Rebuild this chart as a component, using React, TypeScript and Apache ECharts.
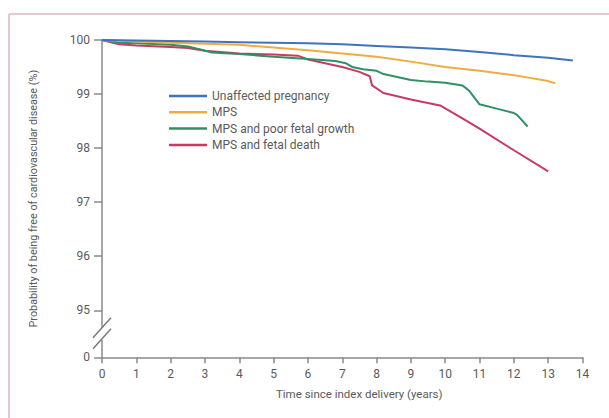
import React, { useEffect, useRef } from "react";
import * as echarts from "echarts";

const seriesNames = [
  "Unaffected pregnancy",
  "MPS",
  "MPS and poor fetal growth",
  "MPS and fetal death",
];

const unaffectedX = [0, 1, 2, 3, 4, 5, 6, 7, 8, 9, 10, 11, 12, 13, 13.72];
const unaffectedY = [100, 99.99, 99.98, 99.97, 99.96, 99.95, 99.94, 99.92, 99.89, 99.86, 99.83, 99.78, 99.72, 99.67, 99.62];

const mpsX = [0, 1, 2, 3, 4, 5, 6, 7, 8, 9, 10, 11, 12, 13, 13.2];
const mpsY = [100, 99.97, 99.95, 99.93, 99.91, 99.86, 99.81, 99.75, 99.69, 99.6, 99.5, 99.43, 99.35, 99.24, 99.2];

const growthX = [0, 0.5, 1, 2, 2.5, 2.9, 3.2, 4, 4.6, 5, 6, 6.8, 7.1, 7.3, 7.6, 8, 8.2, 8.5, 9, 9.5, 10, 10.5, 10.7, 11, 11.5, 12, 12.1, 12.4];
const growthY = [100, 99.95, 99.94, 99.91, 99.88, 99.82, 99.77, 99.74, 99.71, 99.69, 99.65, 99.61, 99.57, 99.5, 99.46, 99.43, 99.37, 99.33, 99.26, 99.23, 99.21, 99.16, 99.06, 98.81, 98.73, 98.65, 98.61, 98.4];

const deathX = [0, 0.5, 1, 2, 2.5, 3, 4, 5, 5.7, 6, 6.5, 7, 7.5, 7.8, 7.87, 8.2, 9, 9.85, 10.5, 11, 12, 13];
const deathY = [100, 99.92, 99.9, 99.87, 99.85, 99.8, 99.75, 99.73, 99.71, 99.64, 99.57, 99.5, 99.41, 99.33, 99.16, 99.02, 98.9, 98.79, 98.55, 98.36, 97.96, 97.57];

const colors = ["#3f74bd", "#f0ac42", "#2f9163", "#c93a62"];

const yTickValues = [95, 96, 97, 98, 99, 100];
const yBreakBottom = 94.13; // axis bottom, labelled "0" (broken axis)
const yBreakLabel = "0";
const xMin = 0;
const xMax = 14;

const FONT = "Roboto, 'Noto Sans', sans-serif";

function pairs(xs: number[], ys: number[]) {
  return xs.map((x, i) => [x, ys[i]]);
}

export default function App() {
  const ref = useRef<HTMLDivElement>(null);
  useEffect(() => {
    const chart = echarts.init(ref.current!, undefined, { renderer: "svg" });
    const axisColor = "#8a8a8a";
    const labelColor = "#5a5a5a";
    const data = [
      pairs(unaffectedX, unaffectedY),
      pairs(mpsX, mpsY),
      pairs(growthX, growthY),
      pairs(deathX, deathY),
    ];
    chart.setOption({
      animation: false,
      backgroundColor: "#ffffff",
      color: colors,
      grid: { left: 102, right: 26.5, top: 40, bottom: 60.7, containLabel: false },
      legend: {
        orient: "vertical",
        left: 164,
        top: 84,
        itemWidth: 38,
        itemHeight: 2.5,
        itemGap: 2.3,
        icon: "rect",
        data: seriesNames,
        textStyle: { fontFamily: FONT, fontSize: 12, color: labelColor, lineHeight: 14 },
      },
      xAxis: {
        type: "value",
        min: xMin,
        max: xMax,
        interval: 1,
        name: "Time since index delivery (years)",
        nameLocation: "middle",
        nameGap: 31,
        nameTextStyle: { fontFamily: FONT, fontSize: 11.5, color: labelColor, padding: [0, 0, 0, 34] },
        splitLine: { show: false },
        axisLine: { lineStyle: { color: axisColor, width: 1.5 } },
        axisTick: { show: true, length: 6, lineStyle: { color: axisColor, width: 1.5 } },
        axisLabel: { fontFamily: FONT, fontSize: 12, color: labelColor, margin: 11 },
      },
      yAxis: {
        type: "value",
        min: yBreakBottom,
        max: 100,
        name: "Probability of being free of cardiovascular disease (%)",
        nameLocation: "middle",
        nameGap: 63,
        nameRotate: 90,
        nameTextStyle: { fontFamily: FONT, fontSize: 10.8, color: labelColor },
        splitLine: { show: false },
        axisLine: { show: true, lineStyle: { color: axisColor, width: 1.5 } },
        axisTick: {
          show: true,
          length: 8,
          customValues: [yBreakBottom, ...yTickValues],
          lineStyle: { color: axisColor, width: 1.5 },
        },
        axisLabel: {
          fontFamily: FONT,
          fontSize: 12,
          color: labelColor,
          margin: 12,
          customValues: [yBreakBottom, ...yTickValues],
          formatter: (v: number) => (v < 94.5 ? yBreakLabel : String(Math.round(v))),
        },
      },
      series: seriesNames.map((name, i) => ({
        name,
        type: "line",
        data: data[i],
        showSymbol: false,
        symbol: "none",
        lineStyle: { width: 2, color: colors[i] },
        itemStyle: { color: colors[i] },
        z: 2 + (3 - i),
      })),
    });

    // Broken-axis marks and the figure frame
    const p = chart.convertToPixel({ gridIndex: 0 }, [0, (95 + yBreakBottom) / 2]) as number[];
    const ax = p[0];
    const cy = p[1];
    const slash = (dy: number) => ({
      type: "line",
      z: 101,
      shape: { x1: ax - 9, y1: cy + dy + 10, x2: ax + 9, y2: cy + dy - 10 },
      style: { stroke: "#7a7a7a", lineWidth: 1.5 },
    });
    chart.setOption({
      graphic: [
        {
          type: "line",
          z: 0,
          shape: { x1: 9, y1: 14, x2: 9, y2: 418 },
          style: { stroke: "#dbb7c2", lineWidth: 1.5 },
        },
        {
          type: "line",
          z: 0,
          shape: { x1: 9, y1: 14, x2: 609, y2: 14 },
          style: { stroke: "#dbb7c2", lineWidth: 1.5 },
        },
        {
          type: "rect",
          z: 100,
          shape: { x: ax - 3, y: cy - 6, width: 6, height: 12 },
          style: { fill: "#ffffff" },
        },
        slash(-6),
        slash(5),
      ],
    });
    return () => chart.dispose();
  }, []);
  return (
    <div
      ref={ref}
      style={{ position: "fixed", left: 0, top: 0, width: 609, height: 418, background: "#fff" }}
    />
  );
}
